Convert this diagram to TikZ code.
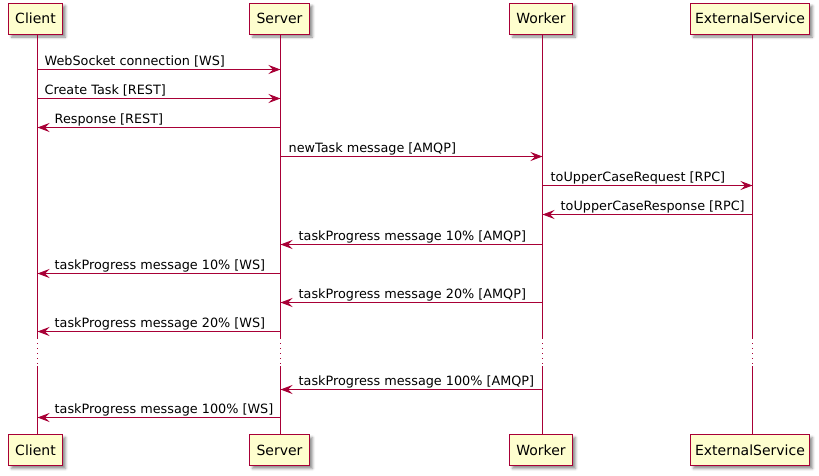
\documentclass[tikz,border=0pt]{standalone}
\usepackage{fontspec}
\setmainfont{DejaVu Sans}
\usetikzlibrary{arrows.meta,shadows.blur}
\definecolor{umlred}{HTML}{A80036}
\definecolor{umlfill}{HTML}{FEFECE}
\tikzset{
  part/.style={draw=umlred, fill=umlfill, line width=1pt, minimum height=31pt, inner sep=0pt,
    font=\fontsize{14}{16}\selectfont,
    blur shadow={shadow xshift=3pt, shadow yshift=-3pt, shadow blur radius=2.5pt, shadow opacity=45}},
  life/.style={draw=umlred, line width=1pt},
  lifedot/.style={draw=umlred, line width=1pt, dash pattern=on 1pt off 4pt},
  msg/.style={draw=umlred, line width=1pt, -{Stealth[length=12pt,width=9pt,inset=4.5pt]}},
  lbl/.style={font=\fontsize{12.8}{15}\selectfont, inner sep=0pt, anchor=base west},
}
\begin{document}
\begin{tikzpicture}[x=1pt,y=-1pt]
\useasboundingbox (0,0) rectangle (819,475);
% top participants
\node[part, minimum width=54pt] (cT) at (35.5,18.5) {Client};
\node[part, minimum width=60pt] (sT) at (279.5,18.5) {Server};
\node[part, minimum width=63pt] (wT) at (541,18.5) {Worker};
\node[part, minimum width=119pt] (eT) at (750,18.5) {ExternalService};
% bottom participants
\node[part, minimum width=54pt] (cB) at (35.5,450) {Client};
\node[part, minimum width=60pt] (sB) at (279.5,450) {Server};
\node[part, minimum width=63pt] (wB) at (541,450) {Worker};
\node[part, minimum width=119pt] (eB) at (750,450) {ExternalService};
% lifeline breakpoints
\foreach \n/\x in {c/37.5,s/280.5,w/542.5,e/752.5}{
  \coordinate (\n d1) at (\x,338);
  \coordinate (\n d2) at (\x,366);
}
\foreach \n/\x in {c/37.5,s/280.5,w/542.5,e/752.5}{
  \draw[life] (\x,34) -- (\n d1);
  \draw[lifedot] (\n d1) -- (\n d2);
  \draw[life] (\n d2) -- (\x,434);
}
% message coordinates
\foreach \y/\i in {69.5/1,98.5/2,127.5/3,156.5/4,185.5/5,214.5/6,244.5/7,273.5/8,302.5/9,331.5/10,389.5/11,417.5/12}{
  \coordinate (c\i) at (37.5,\y);
  \coordinate (s\i) at (280.5,\y);
  \coordinate (w\i) at (542.5,\y);
  \coordinate (e\i) at (752.5,\y);
}
\draw[msg] (c1) -- (s1);
\node[lbl] at ([xshift=7pt,yshift=4.5pt]c1) {WebSocket connection [WS]};
\draw[msg] (c2) -- (s2);
\node[lbl] at ([xshift=7pt,yshift=4.5pt]c2) {Create Task [REST]};
\draw[msg] (s3) -- (c3);
\node[lbl] at ([xshift=17pt,yshift=4.5pt]c3) {Response [REST]};
\draw[msg] (s4) -- (w4);
\node[lbl] at ([xshift=8pt,yshift=4.5pt]s4) {newTask message [AMQP]};
\draw[msg] (w5) -- (e5);
\node[lbl] at ([xshift=8pt,yshift=4.5pt]w5) {toUpperCaseRequest [RPC]};
\draw[msg] (e6) -- (w6);
\node[lbl] at ([xshift=18pt,yshift=4.5pt]w6) {toUpperCaseResponse [RPC]};
\draw[msg] (w7) -- (s7);
\node[lbl] at ([xshift=18pt,yshift=4.5pt]s7) {taskProgress message 10\% [AMQP]};
\draw[msg] (s8) -- (c8);
\node[lbl] at ([xshift=17pt,yshift=4.5pt]c8) {taskProgress message 10\% [WS]};
\draw[msg] (w9) -- (s9);
\node[lbl] at ([xshift=18pt,yshift=4.5pt]s9) {taskProgress message 20\% [AMQP]};
\draw[msg] (s10) -- (c10);
\node[lbl] at ([xshift=17pt,yshift=4.5pt]c10) {taskProgress message 20\% [WS]};
\draw[msg] (w11) -- (s11);
\node[lbl] at ([xshift=18pt,yshift=4.5pt]s11) {taskProgress message 100\% [AMQP]};
\draw[msg] (s12) -- (c12);
\node[lbl] at ([xshift=17pt,yshift=4.5pt]c12) {taskProgress message 100\% [WS]};
\end{tikzpicture}
\end{document}
